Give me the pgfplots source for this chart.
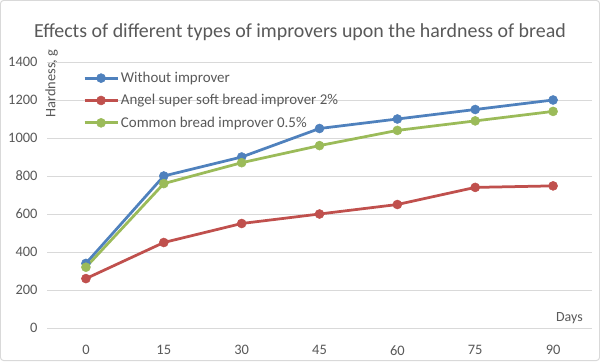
\documentclass[border=0pt]{standalone}
\usepackage{pgfplots}
\pgfplotsset{compat=1.18}
\usepackage{fontspec}
\setmainfont{Carlito}
\definecolor{txt}{RGB}{89,89,89}
\definecolor{gridc}{RGB}{217,217,217}
\definecolor{cblue}{RGB}{79,129,189}
\definecolor{cred}{RGB}{192,80,77}
\definecolor{cgreen}{RGB}{155,187,89}
\begin{document}
\begin{tikzpicture}[x=1bp,y=1bp]
\path[use as bounding box] (0,0) rectangle (600,361);
\fill[white] (0,0) rectangle (600,361);
\draw[gridc, line width=1bp, rounded corners=3bp] (0.5,0.5) rectangle (599.5,360.5);
\begin{axis}[
  at={(47bp,33bp)}, anchor=south west,
  scale only axis, width=545bp, height=266bp,
  xmin=-7.5, xmax=97.5, ymin=0, ymax=1400,
  xtick={0,15,30,45,60,75,90},
  ytick={0,200,400,600,800,1000,1200,1400},
  ymajorgrids, grid style={gridc, line width=0.75bp},
  axis line style={draw=none},
  major tick length=0pt,
  tick label style={font=\fontsize{14.5}{16}\selectfont, text=txt},
  xticklabel style={yshift=-14bp},
  yticklabel style={xshift=-6bp},
  /pgf/number format/assume math mode=true,
  /pgf/number format/set thousands separator={},
  legend cell align=left,
  legend style={at={(36bp,258bp)}, anchor=north west, draw=none, fill=none,
    font=\fontsize{15}{17}\selectfont, text=txt, row sep=6.5bp, inner sep=0pt},
  legend image code/.code={\draw[mark repeat=2,mark phase=2] plot coordinates {(0bp,0bp)(16.5bp,0bp)(33bp,0bp)};},
]
\addplot[cblue, line width=2.75bp, mark=*, mark size=4.5bp, mark options={fill=cblue, line width=0.5bp}] coordinates {(0,340)(15,800)(30,900)(45,1050)(60,1100)(75,1150)(90,1200)};
\addlegendentry{Without improver}
\addplot[cred, line width=2.75bp, mark=*, mark size=4.5bp, mark options={fill=cred, line width=0.5bp}] coordinates {(0,260)(15,450)(30,550)(45,600)(60,650)(75,740)(90,748)};
\addlegendentry{Angel super soft bread improver 2\%}
\addplot[cgreen, line width=2.75bp, mark=*, mark size=4.5bp, mark options={fill=cgreen, line width=0.5bp}] coordinates {(0,320)(15,760)(30,870)(45,960)(60,1040)(75,1090)(90,1140)};
\addlegendentry{Common bread improver 0.5\%}
\end{axis}
\node[txt, font=\fontsize{20}{24}\selectfont] at (300,329) {Effects of different types of improvers upon the hardness of bread};
\node[txt, font=\fontsize{14.5}{16}\selectfont, rotate=90, anchor=center, inner sep=0pt] at (51.5,277.5) {Hardness, g};
\node[txt, font=\fontsize{14}{16}\selectfont, anchor=east, inner sep=0pt] at (583,43) {Days};
\end{tikzpicture}
\end{document}
